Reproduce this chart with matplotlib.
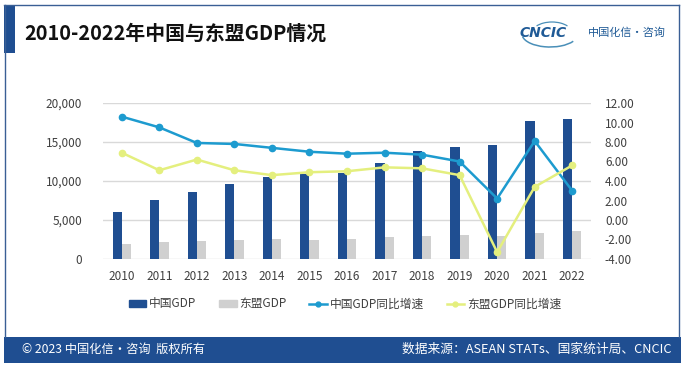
import matplotlib
matplotlib.use("Agg")
import matplotlib.pyplot as plt
import numpy as np
from matplotlib.patches import Rectangle, Arc
from matplotlib.lines import Line2D

plt.rcParams['font.family'] = ['Noto Sans CJK SC', 'DejaVu Sans']

# ---- data ----
years = ['2010', '2011', '2012', '2013', '2014', '2015', '2016',
         '2017', '2018', '2019', '2020', '2021', '2022']
china_gdp = [6087, 7552, 8532, 9570, 10476, 10950, 11050,
             12250, 13850, 14300, 14650, 17734, 17990]
asean_gdp = [1920, 2220, 2350, 2480, 2520, 2440, 2560,
             2780, 2900, 3120, 2900, 3290, 3550]
china_growth = [10.6, 9.5, 7.9, 7.8, 7.4, 7.0, 6.8, 6.9, 6.7, 6.0, 2.2, 8.1, 3.0]
asean_growth = [6.9, 5.1, 6.2, 5.1, 4.6, 4.9, 5.0, 5.4, 5.3, 4.6, -3.3, 3.4, 5.6]

left_ticks = [0, 5000, 10000, 15000, 20000]
right_ticks = [-4, -2, 0, 2, 4, 6, 8, 10, 12]

# ---- colours ----
NAVY = '#1f4e91'
GREY_BAR = '#d0d0d0'
CYAN = '#1d9bcf'
LIME = '#e4ef7e'
GRID = '#d9d9d9'
TXT = '#404040'

W, H = 685, 369
fig = plt.figure(figsize=(W / 100, H / 100), dpi=100)
fig.patch.set_facecolor('white')


def fx(x):
    return x / W


def fy(y):
    return 1 - y / H


# ---- frame / decorations ----
fig.add_artist(Line2D([fx(4), fx(679)], [fy(5), fy(5)], color='#3a5f95', lw=1.0))
fig.add_artist(Line2D([fx(4.5), fx(4.5)], [fy(5), fy(337)], color='#3a5f95', lw=1.0))
fig.add_artist(Line2D([fx(679), fx(679)], [fy(5), fy(337)], color='#3a5f95', lw=1.0))
fig.add_artist(Rectangle((fx(4), fy(53)), fx(15) - fx(4), fy(5) - fy(53),
                         color=NAVY, transform=fig.transFigure, lw=0))
fig.add_artist(Rectangle((fx(4), fy(362.5)), fx(681) - fx(4), fy(336.5) - fy(362.5),
                         color=NAVY, transform=fig.transFigure, lw=0))

fig.text(fx(24), fy(33), '2010-2022年中国与东盟GDP情况', fontsize=14.3,
         fontweight='bold', color='#111111', va='center', ha='left')

# logo
fig.text(fx(520), fy(33), 'CNCIC', family='DejaVu Sans', fontsize=10,
         fontweight='heavy', style='italic', color='#1f5a96', va='center', ha='left')
fig.add_artist(Arc((fx(550), fy(34)), fx(56), 26 / H, theta1=190, theta2=330,
                   color='#4a8fb8', lw=1.1, transform=fig.transFigure))
fig.add_artist(Arc((fx(552), fy(33)), fx(40), 22 / H, theta1=40, theta2=140,
                   color='#4a8fb8', lw=0.9, transform=fig.transFigure))
fig.text(fx(588), fy(33), '中国化信·咨询', fontsize=8, style='italic',
         color='#1f5a96', va='center', ha='left')

# footer
fig.text(fx(22), fy(349.5), '© 2023 中国化信・咨询  版权所有', fontsize=8.8,
         color='white', va='center', ha='left')
fig.text(fx(672), fy(349.5), '数据来源：ASEAN STATs、国家统计局、CNCIC', fontsize=9.2,
         color='white', va='center', ha='right')

# ---- chart ----
ax = fig.add_axes([fx(103), fy(259), fx(591) - fx(103), fy(103) - fy(259)])
x = np.arange(len(years))
bw = 0.245
ax.bar(x - bw / 2, china_gdp, width=bw, color=NAVY, zorder=2)
ax.bar(x + bw / 2, asean_gdp, width=bw, color=GREY_BAR, zorder=2)
ax.set_ylim(0, 20000)
ax.set_xlim(-0.5, len(years) - 0.5)
ax.set_yticks(left_ticks)
ax.set_yticklabels([f'{v:,}' for v in left_ticks])
ax.set_xticks(x)
ax.set_xticklabels(years)
ax.yaxis.grid(True, color=GRID, lw=1.0)
ax.set_axisbelow(True)
ax.tick_params(axis='y', length=0, pad=15, labelsize=8.5, labelcolor=TXT)
ax.tick_params(axis='x', length=0, pad=8, labelsize=8.5, labelcolor=TXT)
for s in ax.spines.values():
    s.set_visible(False)

ax2 = ax.twinx()
ax2.plot(x, china_growth, color=CYAN, lw=1.8, marker='o', ms=4.5, zorder=3)
ax2.plot(x, asean_growth, color=LIME, lw=1.8, marker='o', ms=4.5, zorder=3)
ax2.set_ylim(-4, 12)
ax2.set_yticks(right_ticks)
ax2.set_yticklabels([f'{v:.2f}' for v in right_ticks])
ax2.tick_params(axis='y', length=0, pad=10, labelsize=8.5, labelcolor=TXT)
for s in ax2.spines.values():
    s.set_visible(False)

handles = [
    Rectangle((0, 0), 1, 1, color=NAVY),
    Rectangle((0, 0), 1, 1, color=GREY_BAR),
    Line2D([], [], color=CYAN, lw=1.8, marker='o', ms=3.5),
    Line2D([], [], color=LIME, lw=1.8, marker='o', ms=3.5),
]
labels = ['中国GDP', '东盟GDP', '中国GDP同比增速', '东盟GDP同比增速']
fig.legend(handles, labels, loc='center', bbox_to_anchor=(fx(345), fy(304)),
           ncol=4, frameon=False, fontsize=8.5, handlelength=1.5, handleheight=0.6,
           handletextpad=0.25, columnspacing=1.9, labelcolor=TXT)

fig.savefig('out.png', dpi=100, facecolor='white')
